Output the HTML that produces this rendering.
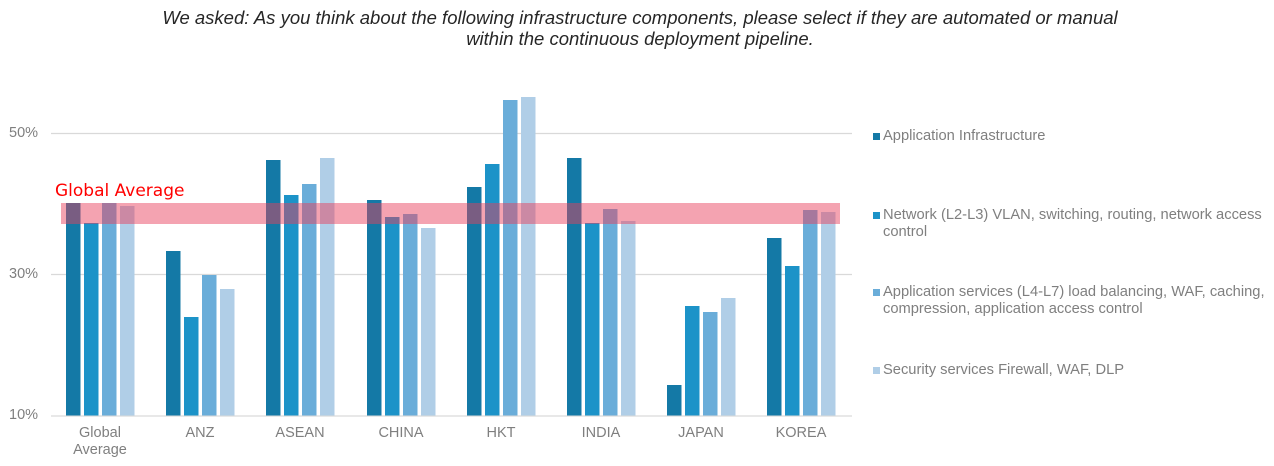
<!DOCTYPE html>
<html><head><style>
body{margin:0;width:1274px;height:466px;background:#fff;font-family:"Liberation Sans",sans-serif;position:relative;overflow:hidden}
.t{position:absolute;left:0;width:1280px;text-align:center;font-style:italic;font-size:18.5px;color:#262626;line-height:21px;top:7px}
.a{position:absolute;color:#7f7f7f;font-size:14.5px}
.lg{position:absolute;left:883px;color:#7f7f7f;font-size:14.7px;line-height:17px;width:390px}
.sq{position:absolute;left:-10px;top:5px;width:7px;height:7px}
</style></head><body>
<div class="t">We asked: As you think about the following infrastructure components, please select if they are automated or manual<br>within the continuous deployment pipeline.</div>
<svg width="1274" height="466" style="position:absolute;left:0;top:0">
<g stroke="#d9d9d9" stroke-width="1.3"><line x1="51" x2="852" y1="133.5" y2="133.5"/><line x1="51" x2="852" y1="274.5" y2="274.5"/><line x1="51" x2="852" y1="416" y2="416"/></g>
<g id="b"></g>
<rect x="61" y="203" width="779" height="21" fill="rgb(232,62,92)" fill-opacity="0.48"/>
<text x="55" y="196" fill="#ff0000" font-size="17" font-family="DejaVu Sans,sans-serif">Global Average</text>
</svg>
<div class="a" style="left:9px;top:125px">50%</div>
<div class="a" style="left:9px;top:266px">30%</div>
<div class="a" style="left:9px;top:407px">10%</div>
<div class="a" style="left:60px;top:425px;width:80px;text-align:center;line-height:17px">Global<br>Average</div>
<div class="a" style="left:160px;top:425px;width:80px;text-align:center">ANZ</div>
<div class="a" style="left:260px;top:425px;width:80px;text-align:center">ASEAN</div>
<div class="a" style="left:361px;top:425px;width:80px;text-align:center">CHINA</div>
<div class="a" style="left:461px;top:425px;width:80px;text-align:center">HKT</div>
<div class="a" style="left:561px;top:425px;width:80px;text-align:center">INDIA</div>
<div class="a" style="left:661px;top:425px;width:80px;text-align:center">JAPAN</div>
<div class="a" style="left:761px;top:425px;width:80px;text-align:center">KOREA</div>
<div class="lg" style="top:128px"><span class="sq" style="background:#1479a6"></span>Application Infrastructure</div>
<div class="lg" style="top:207px"><span class="sq" style="background:#1c93c8"></span>Network (L2-L3) VLAN, switching, routing, network access control</div>
<div class="lg" style="top:284px"><span class="sq" style="background:#6aadd9"></span>Application services (L4-L7) load balancing, WAF, caching, compression, application access control</div>
<div class="lg" style="top:362px"><span class="sq" style="background:#b0cee7"></span>Security services Firewall, WAF, DLP</div>
<script>
var tops=[[203,223,203,206],[251,317,275,289],[160,195,184,158],[200,217,214,228],[187,164,100,97],[158,223,209,221],[385,306,312,298],[238,266,210,212]];
var xs=[66,166,266,367,467,567,667,767],off=[0,18,36,54],c=["#1479a6","#1c93c8","#6aadd9","#b0cee7"],s="";
tops.forEach(function(t,g){t.forEach(function(y,i){s+='<rect x="'+(xs[g]+off[i])+'" y="'+y+'" width="14.5" height="'+(415.5-y)+'" fill="'+c[i]+'"/>';});});
document.getElementById("b").innerHTML=s;
</script>
</body></html>
